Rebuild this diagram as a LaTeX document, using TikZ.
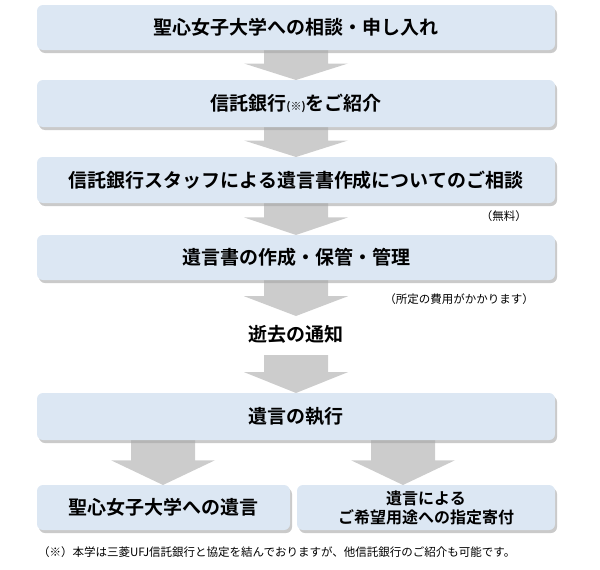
\documentclass[tikz,border=0pt]{standalone}
\usepackage{fontspec}
\setmainfont{Noto Sans CJK JP}
\newfontfamily\cjkbold{Noto Sans CJK JP Bold}
\usetikzlibrary{shadows}
\definecolor{boxblue}{HTML}{DCE7F3}
\definecolor{arrowgray}{HTML}{CCCCCC}
\tikzset{
  stepbox/.style={draw=none,fill=boxblue,rounded corners=6pt,font=\cjkbold\fontsize{19}{23}\selectfont,
    align=center,inner sep=0pt,
    drop shadow={shadow xshift=2pt,shadow yshift=-3pt,fill=black!35,opacity=.6}},
  note/.style={font=\fontsize{11.5}{14}\selectfont,inner sep=0pt}
}
% block arrow: centre x, top y, bottom y
\newcommand{\blockarrow}[3]{%
  \fill[arrowgray] (#1-32,#2) -- (#1+32,#2) -- (#1+32,#2+0.45*#3-0.45*#2)
    -- (#1+52,#2+0.45*#3-0.45*#2) -- (#1,#3) -- (#1-52,#2+0.45*#3-0.45*#2)
    -- (#1-32,#2+0.45*#3-0.45*#2) -- cycle;}
\begin{document}
\begin{tikzpicture}[x=1pt,y=-1pt]
  \useasboundingbox (0,0) rectangle (600,570);
  %arrows first, boxes on top
  \blockarrow{296}{50}{80}
  \blockarrow{296}{127}{157}
  \blockarrow{296}{203}{235}
  \blockarrow{296}{280}{316}
  \blockarrow{296}{355}{393}
  \blockarrow{163}{440}{485}
  \blockarrow{403}{440}{485}
  \node[stepbox,minimum width=518pt,minimum height=45pt] (consult) at (296,27.5) {聖心女子大学への相談・申し入れ};
  \node[stepbox,minimum width=518pt,minimum height=47pt] (intro) at (296,103.5) {信託銀行{\fontsize{11}{13}\selectfont (※)}をご紹介};
  \node[stepbox,minimum width=518pt,minimum height=46pt] (staff) at (296,180) {信託銀行スタッフによる遺言書作成についてのご相談};
  \node[note,anchor=east] (free) at (527,216) {（無料）};
  \node[stepbox,minimum width=518pt,minimum height=45pt] (make) at (296,257.5) {遺言書の作成・保管・管理};
  \node[note,anchor=east] (fee) at (534,299) {（所定の費用がかかります）};
  \node[font=\cjkbold\fontsize{19}{23}\selectfont] (death) at (296,334) {逝去の通知};
  \node[stepbox,minimum width=518pt,minimum height=47pt] (exec) at (296,416.5) {遺言の執行};
  \node[stepbox,minimum width=253pt,minimum height=45pt] (univ) at (163.5,507.5) {聖心女子大学への遺言};
  \node[stepbox,minimum width=258pt,minimum height=45pt,font=\cjkbold\fontsize{16}{19}\selectfont] (gift) at (426,507.5) {遺言による\\ご希望用途への指定寄付};
  \node[note,anchor=west] (foot) at (38,552) {（※）本学は三菱UFJ信託銀行と協定を結んでおりますが、他信託銀行のご紹介も可能です。};
\end{tikzpicture}
\end{document}
